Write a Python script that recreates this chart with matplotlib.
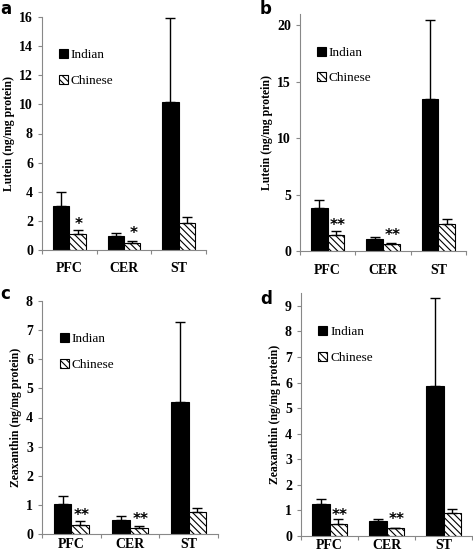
import numpy as np
import matplotlib.pyplot as plt

plt.rcParams['font.family'] = ['Liberation Serif', 'DejaVu Serif']
plt.rcParams['hatch.linewidth'] = 0.8

regions = ['PFC', 'CER', 'ST']
series = ['Indian', 'Chinese']

# panel a: lutein
a_indian = [3.0, 0.95, 10.15]
a_indian_err = [0.95, 0.2, 5.75]
a_chinese = [1.1, 0.5, 1.85]
a_chinese_err = [0.25, 0.1, 0.4]
a_sig = ['*', '*', '']

# panel b: lutein
b_indian = [3.8, 1.1, 13.5]
b_indian_err = [0.7, 0.15, 7.0]
b_chinese = [1.4, 0.6, 2.35]
b_chinese_err = [0.35, 0.15, 0.5]
b_sig = ['**', '**', '']

# panel c: zeaxanthin
c_indian = [1.02, 0.48, 4.52]
c_indian_err = [0.28, 0.14, 2.76]
c_chinese = [0.32, 0.2, 0.77]
c_chinese_err = [0.13, 0.07, 0.13]
c_sig = ['**', '**', '']

# panel d: zeaxanthin
d_indian = [1.27, 0.58, 5.87]
d_indian_err = [0.18, 0.09, 3.43]
d_chinese = [0.45, 0.3, 0.9]
d_chinese_err = [0.2, 0.03, 0.15]
d_sig = ['**', '**', '']

fig = plt.figure(figsize=(4.73, 5.56), dpi=100)
W, H = 473, 556


def box(l, r, t, b):
    return [l / W, 1 - b / H, (r - l) / W, (b - t) / H]


def panel(rect, ind, ind_err, chi, chi_err, sig, ylim, yticks, ylabel, sig_dx, xpad):
    ax = fig.add_axes(rect)
    x = np.arange(len(regions))
    bw = 0.3
    ax.bar(x - bw / 2, ind, bw, color='black', edgecolor='black', linewidth=0.8,
           label=series[0])
    ax.errorbar(x - bw / 2, ind, yerr=[np.zeros(3), ind_err], fmt='none',
                ecolor='black', elinewidth=1, capsize=3.5, capthick=1)
    ax.bar(x + bw / 2, chi, bw, color='white', edgecolor='black', hatch='\\\\\\\\\\',
           linewidth=0.8, label=series[1])
    ax.errorbar(x + bw / 2, chi, yerr=[np.zeros(3), chi_err], fmt='none',
                ecolor='black', elinewidth=1, capsize=3.5, capthick=1)
    for xi, v, e, s in zip(x, chi, chi_err, sig):
        if s:
            ax.text(xi + bw / 2 + sig_dx, v + e * 0.15 + ylim * 0.005, s,
                    ha='center', va='bottom', fontsize=11, fontweight='bold',
                    family='DejaVu Sans')
    ax.set_xlim(-0.5, 2.5)
    ax.set_ylim(0, ylim)
    ax.set_yticks(yticks)
    ax.set_yticklabels([f'{t:g}' for t in yticks], fontsize=10, fontweight='bold')
    ax.set_xticks([-0.5, 0.5, 1.5, 2.5])
    ax.set_xticklabels([])
    ax.set_xticks(x, minor=True)
    ax.set_xticklabels(regions, minor=True, fontsize=10, fontweight='bold')
    ax.tick_params(axis='x', which='minor', length=0, pad=xpad)
    ax.tick_params(axis='both', which='major', length=3, color='#888888', width=0.8)
    for s in ['top', 'right']:
        ax.spines[s].set_visible(False)
    for s in ['left', 'bottom']:
        ax.spines[s].set_color('#888888')
        ax.spines[s].set_linewidth(0.8)
    ax.set_ylabel(ylabel, fontsize=8.5, fontweight='bold', labelpad=3)
    ax.legend(loc='upper left', bbox_to_anchor=(0.07, 0.885), frameon=False,
              fontsize=9.5, handlelength=0.7, handleheight=0.7, handletextpad=0.2,
              labelspacing=1.0, borderaxespad=0)
    return ax


panel(box(42, 206, 17, 250), a_indian, a_indian_err, a_chinese, a_chinese_err,
      a_sig, 16, np.arange(0, 17, 2), 'Lutein (ng/mg protein)', 0.02, 9)
panel(box(300, 466, 14, 251), b_indian, b_indian_err, b_chinese, b_chinese_err,
      b_sig, 21, np.arange(0, 21, 5), 'Lutein (ng/mg protein)', 0.03, 9)
panel(box(42, 218, 301, 534), c_indian, c_indian_err, c_chinese, c_chinese_err,
      c_sig, 8, np.arange(0, 9, 1), 'Zeaxanthin (ng/mg protein)', 0.03, 3)
panel(box(301, 472, 293, 536), d_indian, d_indian_err, d_chinese, d_chinese_err,
      d_sig, 9.5, np.arange(0, 10, 1), 'Zeaxanthin (ng/mg protein)', 0.03, 2)

for letter, (px, py) in zip('abcd', [(0, 0), (260, 0), (0, 285), (260, 290)]):
    fig.text(px / W, 1 - py / H, letter, ha='left', va='top', fontsize=12,
             fontweight='heavy', family='DejaVu Sans')

fig.savefig('out.png', dpi=100)
